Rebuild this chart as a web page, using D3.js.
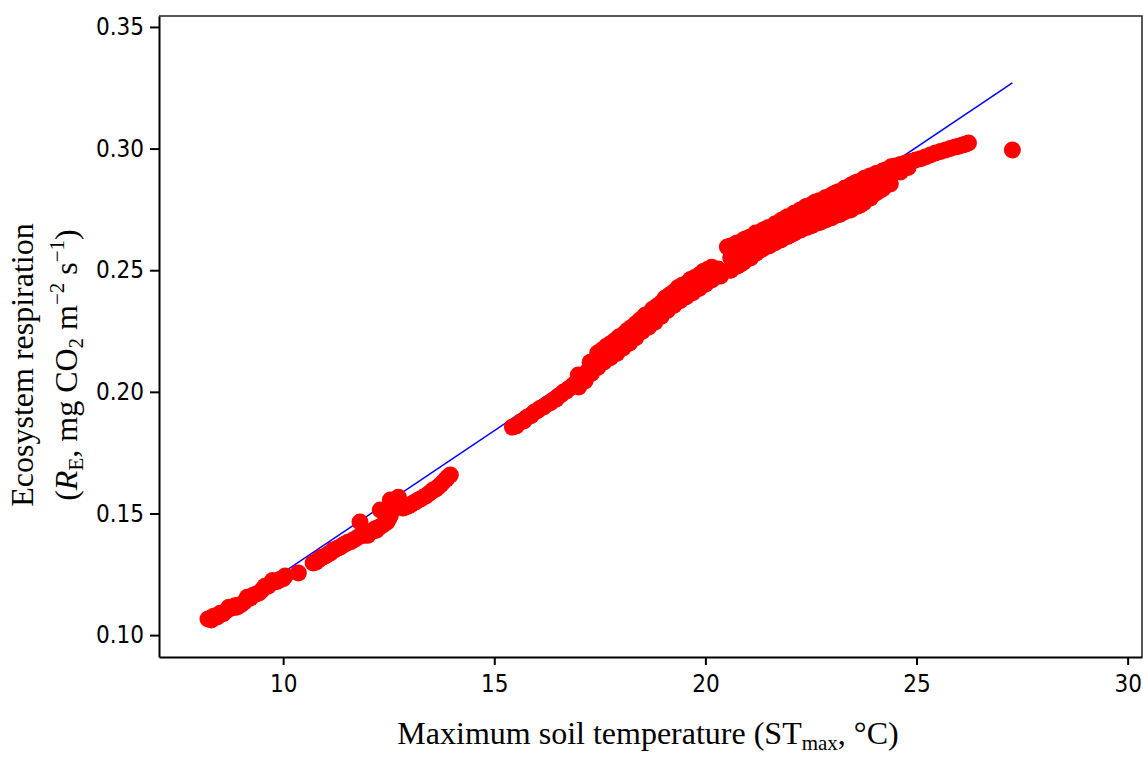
<!DOCTYPE html>
<html>
<head>
<meta charset="utf-8">
<script src="https://cdn.jsdelivr.net/npm/d3@7"></script>
<style>
  body { margin: 0; background: #fff; }
  svg { display: block; }
</style>
</head>
<body>
<div id="chart"></div>
<script>
// readings taken off the figure, grouped by the visible runs of points
let tempLow = [8.22, 8.36, 8.44, 8.51, 8.65, 8.72, 8.79, 8.93, 9.08, 9.15, 9.22, 9.36, 9.50, 9.57, 9.64, 9.79, 9.93, 10.05, 10.36,
               8.29, 8.30, 8.58, 8.86, 8.90, 9.00, 9.29, 9.43, 9.71, 9.75, 9.86, 10.00];
let respLow = [0.1066, 0.1078, 0.1074, 0.1090, 0.1099, 0.1115, 0.1111, 0.1123, 0.1136, 0.1156, 0.1152, 0.1169, 0.1185, 0.1201, 0.1201, 0.1218, 0.1230, 0.1243, 0.1255,
               0.1070, 0.1062, 0.1088, 0.1121, 0.1115, 0.1125, 0.1164, 0.1173, 0.1213, 0.1224, 0.1220, 0.1232];

let tempMid = [10.71, 10.83, 10.95, 11.07, 11.18, 11.30, 11.42, 11.54, 11.66, 11.78, 11.82, 11.99, 12.11, 12.23, 12.35, 12.46, 12.54, 12.30, 12.54, 12.73, 12.84, 12.96, 13.08, 13.20, 13.32, 13.44, 13.55, 13.67, 13.79, 13.86, 13.96,
               10.77, 10.89, 11.01, 11.12, 11.24, 11.36, 11.48, 11.60, 11.72, 11.90, 12.00, 12.05, 12.17, 12.20, 12.29, 12.40, 12.50, 12.62, 12.90, 13.02, 13.14, 13.26, 13.38, 13.50, 13.61, 13.73, 13.90];
let respMid = [0.1296, 0.1308, 0.1321, 0.1333, 0.1350, 0.1358, 0.1370, 0.1382, 0.1391, 0.1403, 0.1465, 0.1419, 0.1428, 0.1440, 0.1452, 0.1465, 0.1493, 0.1514, 0.1555, 0.1567, 0.1522, 0.1530, 0.1543, 0.1555, 0.1567, 0.1580, 0.1596, 0.1609, 0.1629, 0.1641, 0.1658,
               0.1300, 0.1318, 0.1326, 0.1338, 0.1352, 0.1362, 0.1376, 0.1384, 0.1396, 0.1410, 0.1410, 0.1422, 0.1436, 0.1430, 0.1444, 0.1458, 0.1478, 0.1545, 0.1528, 0.1536, 0.1548, 0.1560, 0.1572, 0.1588, 0.1600, 0.1618, 0.1650];

let tempRise = [15.43, 15.62, 15.78, 15.95, 16.09, 16.26, 16.40, 16.52, 16.64, 16.75, 16.87, 16.99, 17.11, 17.23, 17.35, 17.44, 17.51, 17.63, 17.75, 17.87, 17.99, 18.10, 18.22, 18.34, 18.46, 18.58, 18.70, 18.82, 18.93, 19.05, 19.17, 19.29, 19.41, 19.53, 19.64, 19.76, 19.88, 20.00, 20.12, 20.24,
                18.10, 18.58, 19.05, 19.53, 19.64, 18.93, 18.46, 17.80, 17.27,
                15.52, 15.70, 15.87, 16.02, 16.17, 16.33, 16.46, 16.58, 16.70, 16.81, 16.93, 17.05, 17.17, 17.29, 17.40, 17.47, 17.57, 17.69, 17.81, 17.93, 18.04, 18.16, 18.28, 18.40, 18.52, 18.64, 18.76, 18.88, 18.99, 19.11, 19.23, 19.35, 19.47, 19.58, 19.70, 19.82, 19.94, 20.06, 20.18, 20.30,
                17.00, 17.30, 17.60, 17.90, 18.20, 18.50, 18.80, 19.10, 19.40, 19.70, 20.00, 20.30,
                17.45, 17.75, 18.05, 18.35, 18.65, 18.95, 19.25, 19.55, 19.85, 20.15,
                17.55, 17.65, 17.85, 17.95, 18.15, 18.25, 18.45, 18.55, 18.75, 18.85, 19.05, 19.15, 19.35, 19.45, 19.65, 19.75, 19.95, 20.05,
                17.15, 17.45, 17.75, 18.05, 18.35, 18.65, 18.95, 19.25, 19.55, 19.85, 20.15];
let respRise = [0.1855, 0.1876, 0.1896, 0.1917, 0.1933, 0.1950, 0.1966, 0.1983, 0.1999, 0.2012, 0.2028, 0.2069, 0.2065, 0.2090, 0.2118, 0.2131, 0.2143, 0.2160, 0.2172, 0.2184, 0.2201, 0.2217, 0.2234, 0.2254, 0.2275, 0.2287, 0.2303, 0.2320, 0.2340, 0.2357, 0.2377, 0.2390, 0.2406, 0.2419, 0.2431, 0.2443, 0.2460, 0.2472, 0.2488, 0.2501,
                0.2242, 0.2316, 0.2386, 0.2390, 0.2460, 0.2312, 0.2246, 0.2192, 0.2122,
                0.1860, 0.1880, 0.1902, 0.1922, 0.1938, 0.1955, 0.1970, 0.1988, 0.2002, 0.2018, 0.2034, 0.2058, 0.2072, 0.2100, 0.2122, 0.2140, 0.2146, 0.2168, 0.2176, 0.2195, 0.2210, 0.2222, 0.2248, 0.2262, 0.2282, 0.2294, 0.2312, 0.2328, 0.2348, 0.2365, 0.2382, 0.2398, 0.2412, 0.2425, 0.2438, 0.2452, 0.2466, 0.2480, 0.2494, 0.2505,
                0.2020, 0.2075, 0.2123, 0.2158, 0.2200, 0.2248, 0.2286, 0.2334, 0.2375, 0.2407, 0.2442, 0.2475,
                0.2160, 0.2198, 0.2235, 0.2280, 0.2315, 0.2365, 0.2410, 0.2445, 0.2480, 0.2512,
                0.2172, 0.2186, 0.2210, 0.2225, 0.2252, 0.2265, 0.2295, 0.2310, 0.2340, 0.2352, 0.2385, 0.2398, 0.2428, 0.2438, 0.2462, 0.2470, 0.2495, 0.2503,
                0.2045, 0.2100, 0.2140, 0.2180, 0.2222, 0.2266, 0.2310, 0.2355, 0.2392, 0.2425, 0.2460];

let tempWarmLower = [20.36, 20.59, 20.83, 21.07, 21.30, 21.54, 21.78, 22.01, 22.25, 22.49, 22.73, 22.96, 23.20, 23.44, 23.67, 23.91, 24.15, 24.38];
let respWarmLower = [0.2476, 0.2501, 0.2525, 0.2550, 0.2583, 0.2604, 0.2624, 0.2645, 0.2665, 0.2682, 0.2698, 0.2715, 0.2731, 0.2748, 0.2768, 0.2797, 0.2830, 0.2854];

let tempWarmUpper = [20.52, 20.71, 20.95, 21.19, 21.42, 21.66, 21.90, 22.13, 22.37, 22.61, 22.84, 23.08, 23.32, 23.55, 23.79, 24.03, 24.27, 24.50, 24.74, 24.98, 25.21, 25.45, 25.69, 25.92, 26.09, 26.23,
                     24.40, 24.62, 24.86, 25.10, 25.33, 25.57, 25.80, 26.00, 26.16, 24.55, 24.80];
let respWarmUpper = [0.2595, 0.2608, 0.2628, 0.2653, 0.2669, 0.2690, 0.2715, 0.2735, 0.2760, 0.2780, 0.2797, 0.2817, 0.2838, 0.2859, 0.2879, 0.2895, 0.2912, 0.2928, 0.2941, 0.2953, 0.2965, 0.2982, 0.2994, 0.3007, 0.3015, 0.3023,
                     0.2925, 0.2935, 0.2947, 0.2958, 0.2974, 0.2988, 0.3000, 0.3010, 0.3018, 0.2905, 0.2922];

// the thick part of the cloud, read column by column
let tempWarmGrid = [20.60, 20.75, 20.90, 21.05, 21.20, 21.35, 21.50, 21.65, 21.80, 21.95, 22.10, 22.25, 22.40, 22.55, 22.70, 22.85, 23.00, 23.15, 23.30, 23.45, 23.60, 23.75, 23.90, 24.05, 24.20];
let respWarmGridLow = [0.2500, 0.2516, 0.2533, 0.2551, 0.2570, 0.2587, 0.2600, 0.2613, 0.2626, 0.2639, 0.2652, 0.2665, 0.2676, 0.2686, 0.2696, 0.2706, 0.2717, 0.2728, 0.2740, 0.2752, 0.2763, 0.2777, 0.2797, 0.2818, 0.2835];
let respWarmGridMid = [0.2550, 0.2562, 0.2580, 0.2592, 0.2611, 0.2624, 0.2640, 0.2650, 0.2666, 0.2678, 0.2694, 0.2705, 0.2720, 0.2729, 0.2742, 0.2750, 0.2765, 0.2774, 0.2790, 0.2800, 0.2814, 0.2826, 0.2843, 0.2857, 0.2870];
let respWarmGridHigh = [0.2600, 0.2612, 0.2624, 0.2636, 0.2650, 0.2663, 0.2676, 0.2690, 0.2705, 0.2720, 0.2734, 0.2748, 0.2762, 0.2774, 0.2786, 0.2798, 0.2810, 0.2823, 0.2837, 0.2850, 0.2863, 0.2876, 0.2887, 0.2898, 0.2908];

let tempWarmCore = [21.30, 21.78, 22.25, 22.73, 23.20, 23.67, 24.15, 24.62, 27.27];
let respWarmCore = [0.2624, 0.2665, 0.2706, 0.2748, 0.2781, 0.2818, 0.2863, 0.2904, 0.2994];

// fitted line (end points)
let fitTemp = [8.22, 27.27];
let fitResp = [0.105, 0.327];

let xTicks = [10, 15, 20, 25, 30];
let yTicks = [0.10, 0.15, 0.20, 0.25, 0.30, 0.35];

let groups = [
    [tempLow, respLow], [tempMid, respMid], [tempRise, respRise],
    [tempWarmLower, respWarmLower], [tempWarmUpper, respWarmUpper],
    [tempWarmGrid, respWarmGridLow], [tempWarmGrid, respWarmGridMid], [tempWarmGrid, respWarmGridHigh],
    [tempWarmCore, respWarmCore]
];
let points = [];
groups.forEach(g => g[0].forEach((t, i) => points.push({t: t, r: g[1][i]})));

let width = 1143, height = 758;
let plot = {left: 159, right: 1142, top: 16, bottom: 657};

let svg = d3.select("#chart").append("svg")
    .attr("width", width)
    .attr("height", height);

let x = d3.scaleLinear().domain([7.06, 30.34]).range([plot.left, plot.right]);
let y = d3.scaleLinear().domain([0.0910, 0.3545]).range([plot.bottom, plot.top]);

let tickFont = "'DejaVu Sans Condensed', 'DejaVu Sans', sans-serif";
let titleFont = "'Liberation Serif', 'Times New Roman', serif";

// frame top / right
svg.append("path")
    .attr("d", `M${plot.left},${plot.top}H${plot.right}V${plot.bottom}`)
    .attr("fill", "none")
    .attr("stroke", "#222")
    .attr("stroke-width", 1.5);

// fit line (sits under the points)
svg.append("line")
    .attr("x1", x(fitTemp[0]))
    .attr("y1", y(fitResp[0]))
    .attr("x2", x(fitTemp[1]))
    .attr("y2", y(fitResp[1]))
    .attr("stroke", "#0000ff")
    .attr("stroke-width", 1.5);

// points
svg.append("g").selectAll("circle")
    .data(points)
    .enter()
    .append("circle")
    .attr("cx", d => x(d.t))
    .attr("cy", d => y(d.r))
    .attr("r", 8.5)
    .attr("fill", "#ff0000");

// axes
let xAxis = svg.append("g")
    .attr("transform", `translate(0, ${plot.bottom})`)
    .call(d3.axisBottom(x).tickValues(xTicks).tickSize(8).tickSizeOuter(0).tickPadding(10).tickFormat(d3.format("d")));

let yAxis = svg.append("g")
    .attr("transform", `translate(${plot.left}, 0)`)
    .call(d3.axisLeft(y).tickValues(yTicks).tickSize(9).tickSizeOuter(0).tickPadding(6).tickFormat(d3.format(".2f")));

[xAxis, yAxis].forEach(a => {
    a.select(".domain").attr("stroke", "#000").attr("stroke-width", 2);
    a.selectAll(".tick line").attr("stroke", "#000").attr("stroke-width", 2);
    a.selectAll(".tick text")
        .attr("fill", "#000")
        .style("font-family", tickFont)
        .style("font-size", "24px");
});

// x title
let xt = svg.append("text")
    .attr("x", 648)
    .attr("y", 744)
    .attr("text-anchor", "middle")
    .style("font-family", titleFont)
    .style("font-size", "32px")
    .attr("fill", "#000");
xt.append("tspan").text("Maximum soil temperature (ST");
xt.append("tspan").attr("dy", 6).style("font-size", "21px").text("max");
xt.append("tspan").attr("dy", -6).text(", °C)");

// y title
let yt = svg.append("g").attr("transform", "translate(0, 365) rotate(-90)");
yt.append("text")
    .attr("x", 0)
    .attr("y", 33)
    .attr("text-anchor", "middle")
    .style("font-family", titleFont)
    .style("font-size", "32px")
    .attr("fill", "#000")
    .text("Ecosystem respiration");

let yt2 = yt.append("text")
    .attr("x", 0)
    .attr("y", 77)
    .attr("text-anchor", "middle")
    .style("font-family", titleFont)
    .style("font-size", "32px")
    .attr("fill", "#000");
yt2.append("tspan").text("(");
yt2.append("tspan").style("font-style", "italic").text("R");
yt2.append("tspan").attr("dy", 6).style("font-size", "21px").text("E");
yt2.append("tspan").attr("dy", -6).text(", mg CO");
yt2.append("tspan").attr("dy", 6).style("font-size", "21px").text("2");
yt2.append("tspan").attr("dy", -6).text(" m");
yt2.append("tspan").attr("dy", -13).style("font-size", "21px").text("−2");
yt2.append("tspan").attr("dy", 13).text(" s");
yt2.append("tspan").attr("dy", -13).style("font-size", "21px").text("−1");
yt2.append("tspan").attr("dy", 13).text(")");
</script>
</body>
</html>
